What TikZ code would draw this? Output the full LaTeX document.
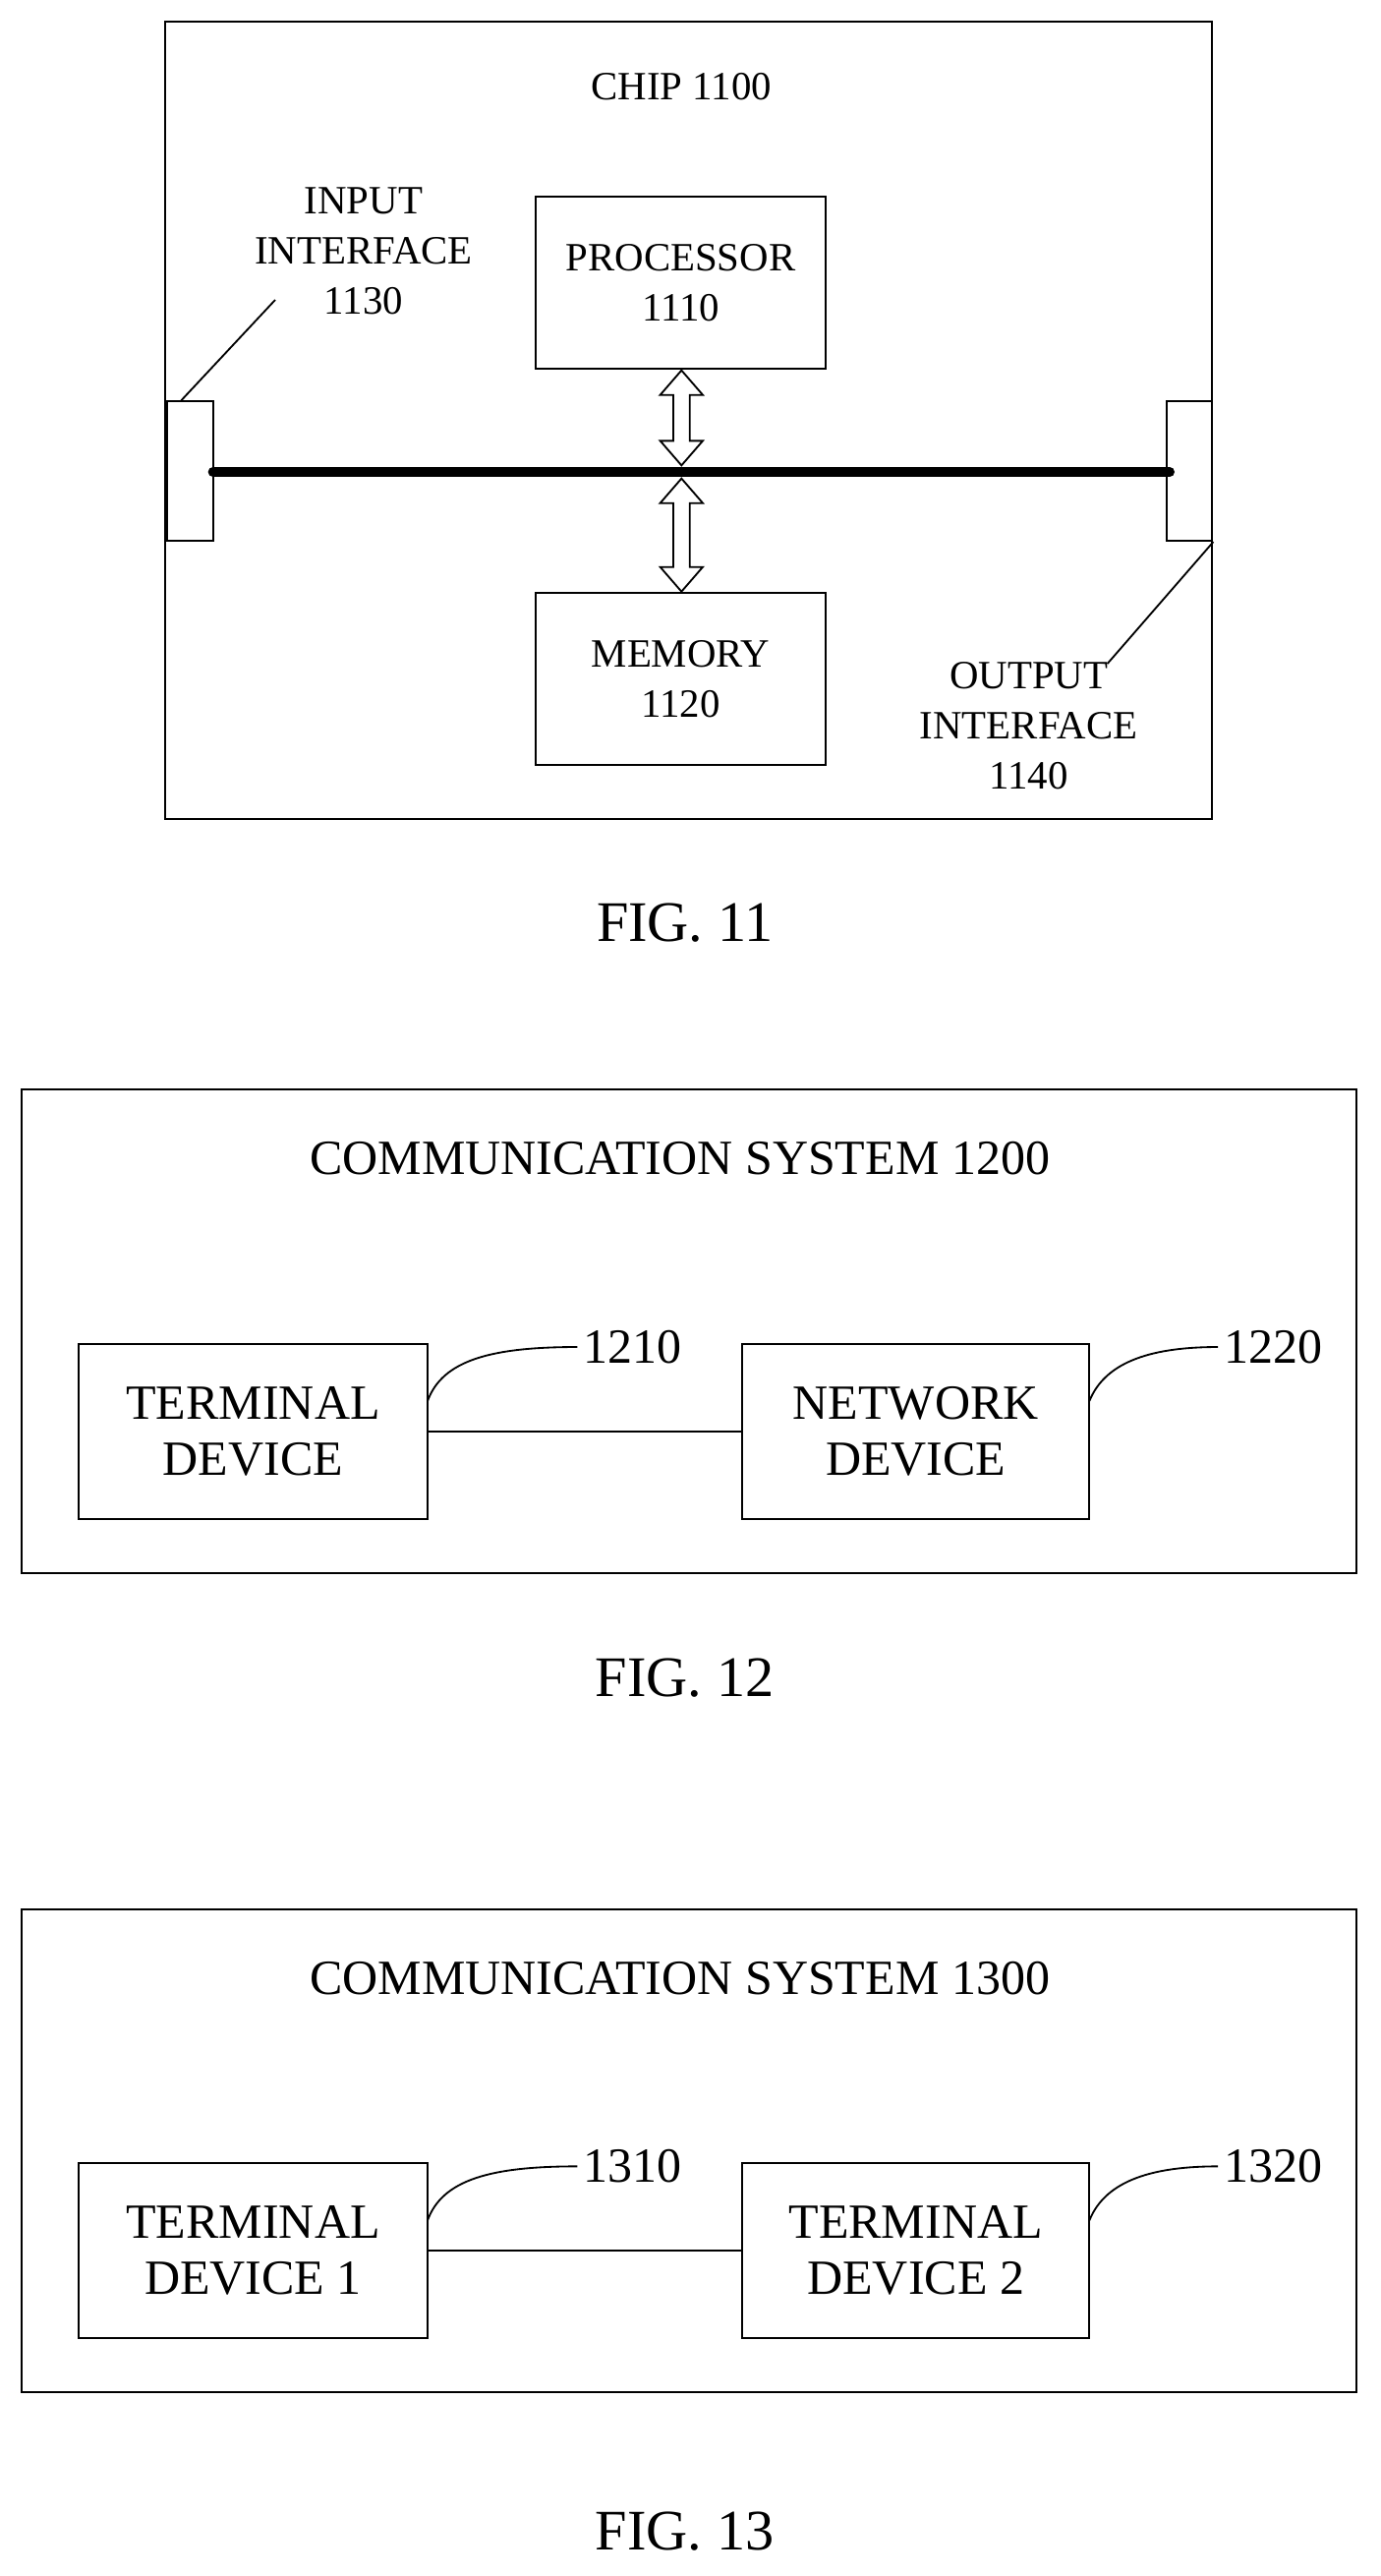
\documentclass[tikz,border=0pt]{standalone}
\usepackage{fontspec}
\setmainfont{Liberation Serif}
\begin{document}
\begin{tikzpicture}[x=1pt,y=-1pt,
  box/.style={draw,line width=1.3pt,inner sep=0pt},
  small/.style={font=\fontsize{24.5}{30.5}\selectfont,align=center},
  big/.style={font=\fontsize{30}{34}\selectfont,align=center},
  fig/.style={font=\fontsize{35}{40}\selectfont},
  lead/.style={line width=1.1pt}]
\useasboundingbox (0,0) rectangle (843,1572);
% FIG 11
\node[box,minimum width=639pt,minimum height=487pt] (chip) at (420.5,256.5) {};
\node[small] (chipl) at (416,53) {CHIP 1100};
\node[box,small,minimum width=177pt,minimum height=105pt] (proc) at (415.5,172.5) {PROCESSOR\\1110};
\node[box,small,minimum width=177pt,minimum height=105pt] (mem) at (415.5,414.5) {MEMORY\\1120};
\node[box,minimum width=28pt,minimum height=85pt] (in) at (116,287.5) {};
\node[box,minimum width=28pt,minimum height=85pt] (out) at (726,287.5) {};
\coordinate (b1) at (130,288); \coordinate (b2) at (714,288);
\draw[line width=6pt,line cap=round] (b1) -- (b2);
\node[small] (inl) at (222,153) {INPUT\\INTERFACE\\1130};
\node[small] (outl) at (628,443) {OUTPUT\\INTERFACE\\1140};
\draw[lead] (in.north east)++(-20,0) coordinate (i0) (i0) -- (168,183);
\draw[lead] (out.south east) -- (676,405);
\foreach \ya/\yb in {226/284, 292/361}{
  \pgfmathsetmacro{\ha}{\ya+15}\pgfmathsetmacro{\hb}{\yb-15}
  \draw[line width=1.1pt,fill=white] (416,\ya) -- (429,\ha) -- (421,\ha) -- (421,\hb) -- (429,\hb) -- (416,\yb) -- (403,\hb) -- (411,\hb) -- (411,\ha) -- (403,\ha) -- cycle;
}
\node[fig] (f11) at (418,563) {FIG. 11};
% FIG 12 and 13
\foreach \dy/\t/\a/\b/\la/\lb/\ft/\fy in {0/1200/TERMINAL\\DEVICE/NETWORK\\DEVICE/1210/1220/12/1024, 500/1300/TERMINAL\\DEVICE 1/TERMINAL\\DEVICE 2/1310/1320/13/1045}{
  \begin{scope}[yshift=-\dy pt]
  \node[box,minimum width=815pt,minimum height=295pt] (sys\ft) at (420.5,812.5) {};
  \node[big] (t\ft) at (415,707) {COMMUNICATION SYSTEM \t};
  \node[box,big,minimum width=213pt,minimum height=107pt] (a\ft) at (154.5,873.5) {\a};
  \node[box,big,minimum width=212pt,minimum height=107pt] (b\ft) at (559,873.5) {\b};
  \draw[lead] (a\ft) -- (b\ft);
  \node[big] (la\ft) at (386,822) {\la};
  \node[big] (lb\ft) at (777,822) {\lb};
  \draw[lead] (261,855) .. controls (270,830) and (300,822) .. (la\ft.west);
  \draw[lead] (665,855) .. controls (675,830) and (705,822) .. (lb\ft.west);
  \node[fig] (f\ft) at (418,\fy) {FIG. \ft};
  \end{scope}
}
\end{tikzpicture}
\end{document}
